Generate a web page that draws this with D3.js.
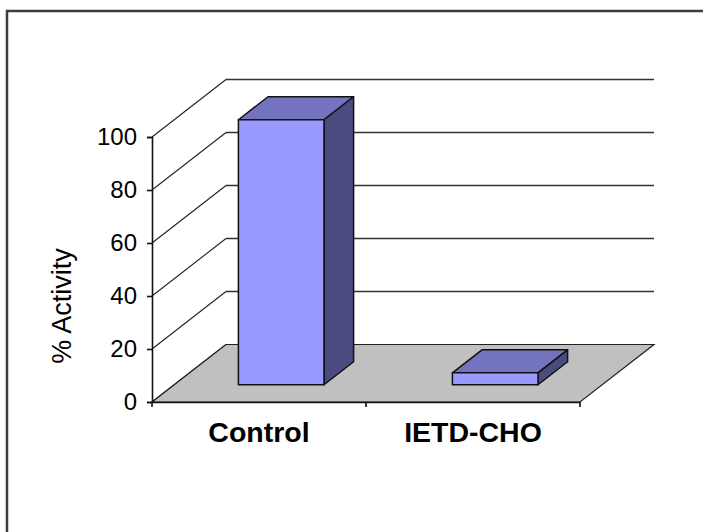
<!DOCTYPE html>
<html>
<head>
<meta charset="utf-8">
<script src="https://cdn.jsdelivr.net/npm/d3@7"></script>
<style>
  html, body { margin: 0; padding: 0; background: #fff; }
  svg { display: block; }
</style>
</head>
<body>
<svg id="chart" width="703" height="532"></svg>
<script>
// Data
const categories = ["Control", "IETD-CHO"];
const activity = [100, 4.5];
const yTicks = [0, 20, 40, 60, 80, 100];

const svg = d3.select("#chart");

// Chart frame (runs off the right and bottom edge)
svg.append("rect")
  .attr("x", 7).attr("y", 11)
  .attr("width", 720).attr("height", 560)
  .attr("fill", "#fff")
  .attr("stroke", "#3c3c3c")
  .attr("stroke-width", 2.5);

// Front plane and depth offset of the 3D box
const x0 = 152, x1 = 580;
const depthX = 74, depthY = -57.5;
const barFront = 0.3, barBack = 0.7;

const y = d3.scaleLinear().domain([0, 100]).range([402, 137]);
const x = d3.scaleBand().domain(categories).range([x0, x1]);
const barW = x.bandwidth() / 2.5;

const off = f => [depthX * f, depthY * f];

// Back wall gridlines and side-wall diagonals
const grid = svg.append("g");
yTicks.filter(v => v > 0).forEach(v => {
  grid.append("line")
    .attr("x1", x0 + depthX).attr("x2", x1 + depthX)
    .attr("y1", y(v) + depthY).attr("y2", y(v) + depthY)
    .attr("stroke", "#333").attr("stroke-width", 1.6);
});

// Floor
const floorPts = [
  [x0, y(0)], [x1, y(0)],
  [x1 + depthX, y(0) + depthY], [x0 + depthX, y(0) + depthY]
];
svg.append("polygon")
  .attr("points", floorPts.map(p => p.join(",")).join(" "))
  .attr("fill", "#c0c0c0")
  .attr("stroke", "#222").attr("stroke-width", 1.2);

yTicks.forEach(v => {
  grid.append("line")
    .attr("x1", x0).attr("y1", y(v))
    .attr("x2", x0 + depthX).attr("y2", y(v) + depthY)
    .attr("stroke", "#222").attr("stroke-width", 1.1);
});

// Bars
const bars = svg.append("g");
categories.forEach((c, i) => {
  const v = activity[i];
  const [fx, fy] = off(barFront);
  const [bx, by] = off(barBack);
  const left = x(c) + (x.bandwidth() - barW) / 2 + fx;
  const right = left + barW;
  const top = y(v) + fy;
  const bottom = y(0) + fy;
  const dx = bx - fx, dy = by - fy;
  const poly = (pts, fill) => bars.append("polygon")
    .attr("points", pts.map(p => p.join(",")).join(" "))
    .attr("fill", fill)
    .attr("stroke", "#111").attr("stroke-width", 1.5)
    .attr("stroke-linejoin", "round");
  // top face
  poly([[left, top], [right, top], [right + dx, top + dy], [left + dx, top + dy]], "#7373bf");
  // side face
  poly([[right, top], [right + dx, top + dy], [right + dx, bottom + dy], [right, bottom]], "#4b4b7f");
  // front face
  poly([[left, top], [right, top], [right, bottom], [left, bottom]], "#9999ff");
});

// Value axis
const yAxis = svg.append("g")
  .attr("transform", `translate(${x0},0)`)
  .call(d3.axisLeft(y).tickValues(yTicks).tickSize(5).tickPadding(10));
yAxis.select(".domain").attr("stroke", "#111").attr("stroke-width", 1.6);
yAxis.selectAll(".tick line").attr("stroke", "#111").attr("stroke-width", 1.6);
yAxis.selectAll(".tick text")
  .attr("font-family", "Liberation Sans, Arial, sans-serif")
  .attr("font-size", 24)
  .attr("fill", "#000");

// Category axis
const xAxis = svg.append("g")
  .attr("transform", `translate(0,${y(0)})`)
  .call(d3.axisBottom(x).tickSize(0).tickPadding(20));
xAxis.select(".domain").attr("stroke", "#111").attr("stroke-width", 1.6);
xAxis.selectAll(".tick text")
  .attr("font-family", "Liberation Sans, Arial, sans-serif")
  .attr("font-size", 28.5)
  .attr("font-weight", "bold")
  .attr("fill", "#000");
// category boundary ticks
[x0, x0 + x.bandwidth(), x1].forEach(t => {
  xAxis.append("line")
    .attr("x1", t).attr("x2", t).attr("y1", 0).attr("y2", 5)
    .attr("stroke", "#111").attr("stroke-width", 1.6);
});

// Axis title
svg.append("text")
  .attr("transform", `translate(71,306) rotate(-90)`)
  .attr("text-anchor", "middle")
  .attr("font-family", "Liberation Sans, Arial, sans-serif")
  .attr("font-size", 27)
  .attr("fill", "#000")
  .text("% Activity");
</script>
</body>
</html>
